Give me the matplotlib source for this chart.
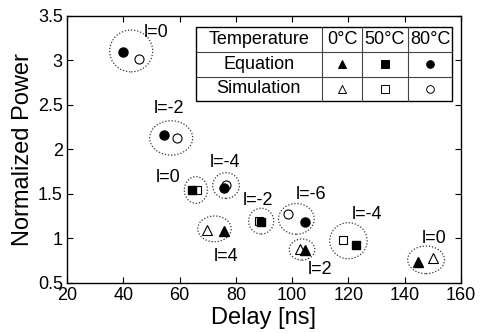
import matplotlib
matplotlib.use("Agg")
import matplotlib.pyplot as plt
from matplotlib.patches import Ellipse

plt.rcParams['font.family'] = ['Liberation Sans', 'DejaVu Sans']

# --- data ---
# 80 C (circles)
c80_eq_x = [40.0, 54.5, 75.9, 104.6]
c80_eq_y = [3.10, 2.16, 1.57, 1.18]
c80_sim_x = [45.5, 59.0, 76.6, 98.5]
c80_sim_y = [3.02, 2.13, 1.60, 1.28]
# 50 C (squares)
c50_eq_x = [64.4, 88.9, 122.8]
c50_eq_y = [1.55, 1.19, 0.93]
c50_sim_x = [66.1, 88.1, 117.9]
c50_sim_y = [1.55, 1.20, 0.98]
# 0 C (triangles)
c0_eq_x = [75.9, 104.5, 144.6]
c0_eq_y = [1.08, 0.87, 0.74]
c0_sim_x = [69.9, 102.7, 150.1]
c0_sim_y = [1.10, 0.885, 0.78]

# groups: (centre x, centre y, width, height)
groups = [(42.8, 3.107, 15.3, 0.47), (57.0, 2.13, 15.3, 0.386),
          (65.8, 1.545, 8.2, 0.30), (76.5, 1.595, 9.5, 0.29),
          (72.4, 1.108, 11.9, 0.29), (89.0, 1.195, 8.9, 0.29),
          (101.5, 1.22, 12.7, 0.345), (103.5, 0.876, 9.1, 0.236),
          (120.0, 0.975, 13.3, 0.405), (147.6, 0.76, 13.1, 0.31)]
group_labels = ['l=0', 'l=-2', 'l=0', 'l=-4', 'l=4', 'l=-2', 'l=-6', 'l=2', 'l=-4', 'l=0']
label_xy = [(51.5, 3.32), (56.3, 2.455), (55.8, 1.69), (76.2, 1.85), (76.6, 0.80),
            (87.8, 1.43), (106.7, 1.49), (110.0, 0.646), (126.5, 1.264), (150.5, 1.0)]

table_head = ['Temperature', '0\u00b0C', '50\u00b0C', '80\u00b0C']
table_rows = ['Equation', 'Simulation']
table_marks = ['^', 's', 'o']

fig = plt.figure(figsize=(4.81, 3.33), dpi=100)
ax = fig.add_axes([0.1393, 0.1502, 0.8191, 0.8018])

for (cx, cy, w, h) in groups:
    ax.add_patch(Ellipse((cx, cy), w, h, fill=False, ls=(0, (1, 1.5)),
                         lw=0.9, ec='#333333'))
for (lx, ly), t in zip(label_xy, group_labels):
    ax.text(lx, ly, t, fontsize=13, ha='center', va='center')

ax.plot(c80_eq_x, c80_eq_y, 'o', ms=6.5, mfc='k', mec='k', ls='none')
ax.plot(c50_eq_x, c50_eq_y, 's', ms=6, mfc='k', mec='k', ls='none')
ax.plot(c0_eq_x, c0_eq_y, '^', ms=6.5, mfc='k', mec='k', ls='none')
ax.plot(c80_sim_x, c80_sim_y, 'o', ms=6.5, mfc='none', mec='k', mew=0.8, ls='none')
ax.plot(c50_sim_x, c50_sim_y, 's', ms=6, mfc='none', mec='k', mew=0.8, ls='none')
ax.plot(c0_sim_x, c0_sim_y, '^', ms=6.5, mfc='none', mec='k', mew=0.8, ls='none')

ax.set_xlim(20, 160)
ax.set_ylim(0.5, 3.5)
ax.set_xticks([20, 40, 60, 80, 100, 120, 140, 160])
ax.set_yticks([0.5, 1, 1.5, 2, 2.5, 3, 3.5])
ax.set_yticklabels(['0.5', '1', '1.5', '2', '2.5', '3', '3.5'])
ax.tick_params(direction='in', length=4, width=0.8, top=True, right=True,
               labelsize=13, pad=3)
ax.set_xlabel('Delay [ns]', fontsize=17, labelpad=2)
ax.set_ylabel('Normalized Power', fontsize=17, labelpad=3)
for s in ax.spines.values():
    s.set_linewidth(1.0)

# table drawn in axes fraction
col_x = [0.3266, 0.6464, 0.7495, 0.8647, 0.9779]
row_y = [0.9599, 0.8663, 0.7727, 0.6816]
tr = ax.transAxes
ax.add_patch(plt.Rectangle((col_x[0], row_y[-1]), col_x[-1] - col_x[0],
                           row_y[0] - row_y[-1], transform=tr, fc='white',
                           ec='k', lw=1.0, zorder=3))
for x in col_x[1:-1]:
    ax.plot([x, x], [row_y[-1], row_y[0]], color='#444444', lw=0.8,
            transform=tr, zorder=4)
for y in row_y[1:-1]:
    ax.plot([col_x[0], col_x[-1]], [y, y], color='#444444', lw=0.8,
            transform=tr, zorder=4)
cx = [(col_x[i] + col_x[i + 1]) / 2 for i in range(4)]
cy = [(row_y[i] + row_y[i + 1]) / 2 for i in range(3)]
for i, t in enumerate(table_head):
    ax.text(cx[i], cy[0], t, transform=tr, ha='center', va='center',
            fontsize=13, zorder=5)
for r, t in enumerate(table_rows):
    ax.text(cx[0], cy[r + 1], t, transform=tr, ha='center', va='center',
            fontsize=13, zorder=5)
    for j, m in enumerate(table_marks):
        ax.plot(cx[j + 1], cy[r + 1], m, ms=5.5, transform=tr, zorder=5,
                mfc='k' if r == 0 else 'none', mec='k', mew=0.7, clip_on=False)

fig.savefig('out.png', dpi=100)
